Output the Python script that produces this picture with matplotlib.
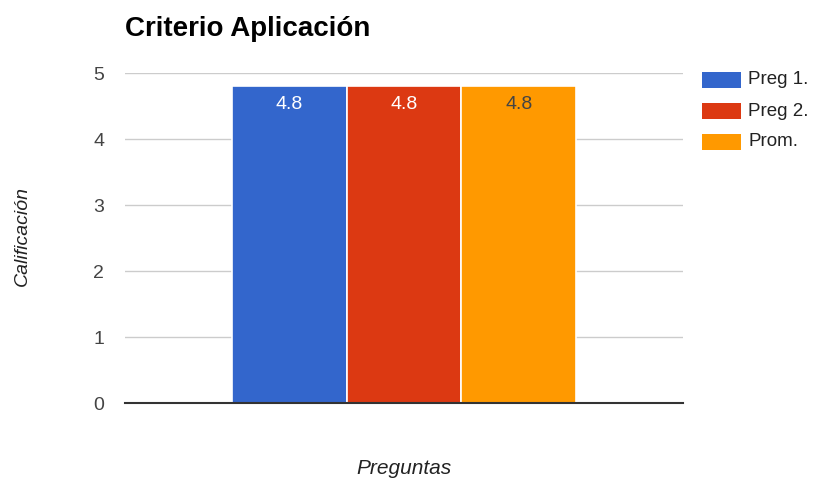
import matplotlib
matplotlib.use("Agg")
import matplotlib.pyplot as plt
from matplotlib.patches import Rectangle

plt.rcParams['font.family'] = ['Liberation Sans', 'DejaVu Sans']

title = "Criterio Aplicación"
series = ["Preg 1.", "Preg 2.", "Prom."]
values = [4.8, 4.8, 4.8]
colors = ["#3366cc", "#dc3912", "#ff9900"]
label_colors = ["#ffffff", "#ffffff", "#444444"]
y_ticks = [0, 1, 2, 3, 4, 5]

fig = plt.figure(figsize=(8.13, 4.83), dpi=100)
ax = fig.add_axes([125 / 813, 80 / 483, 558 / 813, 330 / 483])

width = 0.206
offsets = [-width, 0.0, width]
bars = ax.bar(offsets, values, width=width, color=colors,
              edgecolor="white", linewidth=1.2, zorder=3)

for b, v, c in zip(bars, values, label_colors):
    ax.text(b.get_x() + b.get_width() / 2, v - 0.27, f"{v:g}",
            ha="center", va="center", color=c, fontsize=14, zorder=4)

ax.set_xlim(-0.5, 0.5)
ax.set_ylim(0, 5)
ax.set_yticks(y_ticks)
ax.set_yticklabels([str(t) for t in y_ticks])
ax.set_xticks([])
ax.tick_params(axis="y", length=0, pad=15, labelsize=14, labelcolor="#444444")
ax.grid(axis="y", color="#cccccc", linewidth=1, zorder=0)
for s in ["top", "right", "left"]:
    ax.spines[s].set_visible(False)
ax.spines["bottom"].set_color("#333333")
ax.spines["bottom"].set_linewidth(1.5)
ax.spines["bottom"].set_zorder(5)

fig.text(125 / 813, 1 - 29 / 483, title, fontsize=20, fontweight="bold",
         ha="left", va="center", color="#000000")
fig.text(22 / 813, 1 - 236 / 483, "Calificación", rotation=90, style="italic",
         fontsize=14, ha="center", va="center", color="#222222")
fig.text(404 / 813, 1 - 469 / 483, "Preguntas", style="italic",
         fontsize=15, ha="center", va="center", color="#222222")

# legend drawn as figure-level swatches with labels
for i, (name, col) in enumerate(zip(series, colors)):
    yc = 80 + i * 31
    fig.patches.append(Rectangle((702 / 813, 1 - (yc + 8) / 483), 39 / 813, 16 / 483,
                                 transform=fig.transFigure, facecolor=col,
                                 edgecolor="none"))
    fig.text(748 / 813, 1 - yc / 483, name, fontsize=13.5, ha="left",
             va="center", color="#222222")

fig.savefig("out.png", dpi=100)
